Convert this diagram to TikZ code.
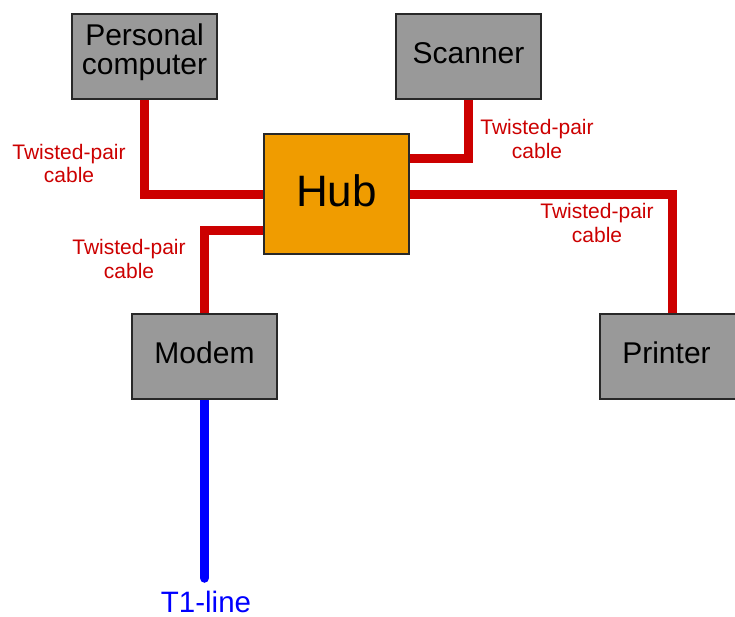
\documentclass[tikz,border=0pt]{standalone}
\usepackage{fontspec}
\setmainfont{Liberation Sans}
\usetikzlibrary{backgrounds}
\definecolor{cablered}{RGB}{204,0,0}
\definecolor{hubfill}{RGB}{240,156,0}
\definecolor{boxgray}{RGB}{153,153,153}
\definecolor{edgegray}{RGB}{40,40,40}
\tikzset{
  devbox/.style={draw=edgegray, line width=1.5pt, fill=boxgray, minimum width=145pt, minimum height=85pt, inner sep=0pt, font=\fontsize{30}{29}\selectfont, text height=21.5pt, text depth=8pt},
  hubbox/.style={draw=edgegray, line width=1.5pt, fill=hubfill, minimum width=145pt, minimum height=120pt, inner sep=0pt, font=\fontsize{44}{44}\selectfont, text height=31.5pt, text depth=6pt},
  cable/.style={draw=cablered, line width=9pt},
  tline/.style={draw=blue, line width=9.5pt, line cap=round},
  cablelabel/.style={text=cablered, align=center, inner sep=0pt, font=\fontsize{21}{23.5}\selectfont},
  t1label/.style={text=blue, inner sep=0pt, anchor=base, font=\fontsize{29.5}{30}\selectfont}
}
\begin{document}
\begin{tikzpicture}[x=1pt,y=-1pt]
\useasboundingbox (0,0) rectangle (735,616);
% nodes
\node[devbox, align=center, text height=51pt, text depth=15pt] (pc) at (144.5,56.5) {Personal\\[0.5pt]computer};
\node[devbox] (scanner) at (468.5,56.5) {Scanner};
\node[hubbox] (hub) at (336.5,194) {Hub};
\node[devbox] (modem) at (204.5,356.5) {Modem};
\node[devbox] (printer) at (672.5,356.5) {Printer\kern12pt\relax};
\coordinate (t1end) at (204.5,578);
% labels
\node[cablelabel] (l1) at (69,163.5) {Twisted-pair\\cable};
\node[cablelabel] (l2) at (129,259) {Twisted-pair\\cable};
\node[cablelabel] (l3) at (537,139) {Twisted-pair\\cable};
\node[cablelabel] (l4) at (597,223) {Twisted-pair\\cable};
\node[t1label] (t1) at (206,612.5) {T1-line};
% cables (behind boxes)
\begin{scope}[on background layer]
\fill[white] (0,0) rectangle (735,616);
\draw[cable] (pc.south) |- (hub.west);
\draw[cable] (modem.north) |- ([yshift=-36.5pt]hub.west);
\draw[cable] (scanner.south) |- ([yshift=35.5pt]hub.east);
\draw[cable] (printer.north) |- ([yshift=-0.5pt]hub.east);
\draw[tline] (modem.south) -- (t1end);
\end{scope}
\end{tikzpicture}
\end{document}
